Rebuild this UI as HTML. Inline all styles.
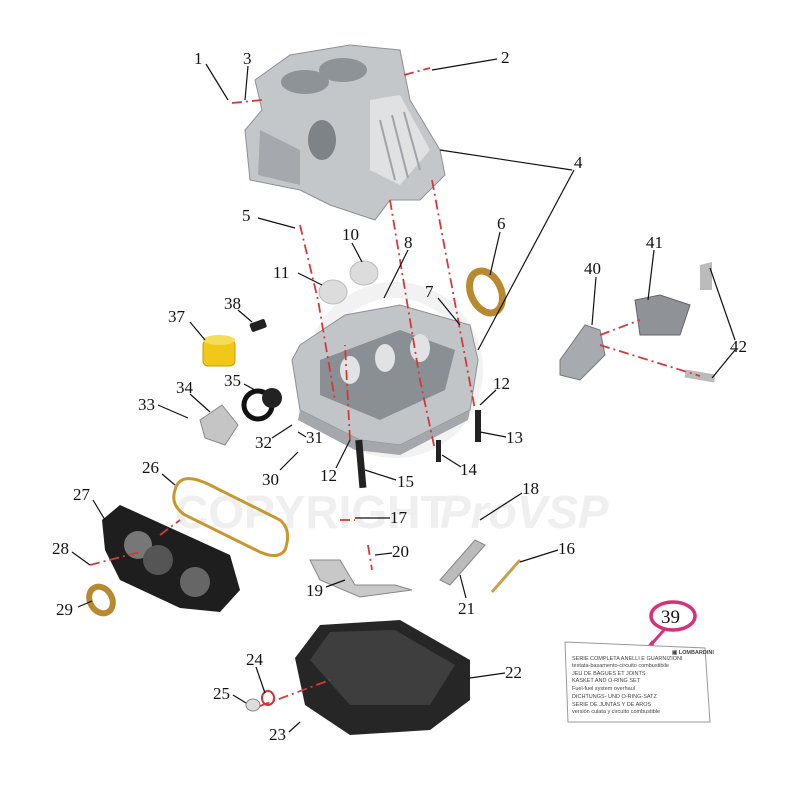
<!DOCTYPE html>
<html><head><meta charset="utf-8"><style>
html,body{margin:0;padding:0;background:#fff;}
svg{display:block;}
text{font-family:"Liberation Serif",serif;font-size:17px;fill:#111;}
.wm{font-family:"Liberation Sans",sans-serif;font-size:46px;fill:#efefef;font-weight:bold;}
.ld{stroke:#111;stroke-width:1.2;fill:none;}
.rd{stroke:#d23a3a;stroke-width:1.8;stroke-dasharray:10 4 2 4;fill:none;}
.card{font-family:"Liberation Sans",sans-serif;font-size:5.5px;fill:#444;}
</style></head><body>
<svg width="800" height="800" viewBox="0 0 800 800" xmlns="http://www.w3.org/2000/svg">
<circle cx="395" cy="370" r="80" fill="none" stroke="#f2f2f2" stroke-width="16"/>
<text x="175" y="528" class="wm">COPYRIGHT</text>
<text x="440" y="528" class="wm" font-style="italic">ProVSP</text>

<path d="M255,80 L290,55 L350,45 L400,50 L410,100 L440,150 L445,175 L420,200 L390,200 L375,220 L330,205 L300,190 L250,180 L245,130 L262,110 Z" fill="#c4c7ca" stroke="#8d9196" stroke-width="1"/>
<ellipse cx="305" cy="82" rx="24" ry="12" fill="#8e9398"/>
<ellipse cx="343" cy="70" rx="24" ry="12" fill="#8e9398"/>
<path d="M370,100 L400,95 L430,150 L400,185 L370,170 Z" fill="#dfe1e3"/>
<path d="M380,120 L395,180 M392,115 L408,178 M404,112 L420,170" stroke="#a0a4a8" stroke-width="2"/>
<ellipse cx="322" cy="140" rx="14" ry="20" fill="#7e8388"/>
<path d="M260,130 L300,150 L300,185 L258,175 Z" fill="#a5a9ae"/>

<path d="M300,345 L345,315 L400,305 L470,325 L478,360 L470,410 L400,445 L360,440 L300,410 L292,360 Z" fill="#c2c5c8" stroke="#8d9196"/>
<path d="M320,360 L400,330 L455,350 L445,390 L380,420 L320,395 Z" fill="#8a8f94"/>
<ellipse cx="350" cy="370" rx="10" ry="14" fill="#e0e2e4"/>
<ellipse cx="385" cy="358" rx="10" ry="14" fill="#e0e2e4"/>
<ellipse cx="420" cy="348" rx="10" ry="14" fill="#e0e2e4"/>
<path d="M300,410 L360,440 L400,445 L470,410 L468,420 L400,455 L355,450 L298,420 Z" fill="#a4a8ac"/>

<ellipse cx="333" cy="292" rx="14" ry="12" fill="#dcdcdc" stroke="#bbb"/>
<ellipse cx="364" cy="273" rx="14" ry="12" fill="#dcdcdc" stroke="#bbb"/>

<ellipse cx="486" cy="292" rx="15" ry="22" transform="rotate(-25 486 292)" fill="none" stroke="#b8892f" stroke-width="7"/>

<path d="M560,360 L585,325 L600,330 L605,355 L580,380 L560,375 Z" fill="#a7abaf" stroke="#777"/>
<path d="M635,300 L660,295 L690,305 L680,335 L640,335 Z" fill="#8f9398" stroke="#666"/>
<path d="M700,265 L712,262 L712,290 L700,290 Z" fill="#bbb"/>
<rect x="685" y="372" width="30" height="8" fill="#bbb" transform="rotate(10 700 376)"/>

<rect x="203" y="340" width="32" height="26" rx="5" fill="#f2c818" stroke="#c99a00"/>
<ellipse cx="219" cy="340" rx="16" ry="5" fill="#f7dc55"/>
<rect x="250" y="321" width="16" height="9" rx="2" fill="#222" transform="rotate(-20 258 325)"/>

<circle cx="258" cy="405" r="14" fill="none" stroke="#111" stroke-width="5"/>
<circle cx="272" cy="398" r="10" fill="#222"/>
<path d="M200,420 L222,405 L238,425 L225,445 L205,438 Z" fill="#c5c5c5" stroke="#888"/>

<path d="M175,490 Q180,470 210,485 L280,520 Q292,530 285,550 Q278,560 260,552 L185,515 Q170,505 175,490 Z" fill="none" stroke="#c7982f" stroke-width="3"/>

<path d="M102,520 L120,505 L230,555 L240,590 L220,612 L180,608 L120,580 L105,550 Z" fill="#1e1e1e"/>
<circle cx="138" cy="545" r="14" fill="#777"/><circle cx="158" cy="560" r="15" fill="#555"/><circle cx="195" cy="582" r="15" fill="#666"/>
<ellipse cx="101" cy="600" rx="11" ry="14" transform="rotate(-30 101 600)" fill="none" stroke="#b8892f" stroke-width="6"/>

<path d="M310,560 L340,560 L355,585 L395,585 L412,590 L360,597 L320,580 Z" fill="#c8c8c8" stroke="#888"/>
<path d="M440,580 L475,540 L485,545 L450,585 Z" fill="#bbb" stroke="#888"/>
<path d="M492,592 L520,560" stroke="#c7a050" stroke-width="3"/>

<path d="M295,658 L320,625 L400,620 L470,660 L470,700 L430,730 L350,735 L305,705 Z" fill="#262626"/>
<path d="M310,660 L330,632 L395,630 L455,665 L430,705 L350,705 Z" fill="#3e3e3e"/>
<ellipse cx="253" cy="705" rx="7" ry="6" fill="#ddd" stroke="#888"/>
<ellipse cx="268" cy="698" rx="6" ry="7" fill="none" stroke="#c33" stroke-width="2"/>

<rect x="357" y="440" width="7" height="48" fill="#222" transform="rotate(-5 360 460)"/>
<rect x="475" y="410" width="6" height="32" fill="#222"/>
<rect x="436" y="440" width="5" height="22" fill="#222"/>

<path class="rd" d="M300,225 L318,300 L335,400"/>
<path class="rd" d="M390,200 L420,380 L435,450"/>
<path class="rd" d="M432,180 L460,330 L475,410"/>
<path class="rd" d="M350,440 L345,345"/>
<path class="rd" d="M404,75 L430,68"/>
<path class="rd" d="M232,103 L262,100"/>
<path class="rd" d="M600,345 L700,376"/>
<path class="rd" d="M600,335 L640,320"/>
<path class="rd" d="M160,535 L180,520"/>
<path class="rd" d="M90,565 L140,552"/>
<path class="rd" d="M260,706 L330,680"/>
<path class="rd" d="M340,520 L355,520"/>
<path class="rd" d="M368,545 L372,570"/>

<path class="ld" d="M206,64 L228,100"/>
<path class="ld" d="M248,66 L245,100"/>
<path class="ld" d="M497,59 L432,70"/>
<path class="ld" d="M572,170 L440,150 M574,170 L478,350"/>
<path class="ld" d="M258,218 L295,228"/>
<path class="ld" d="M500,232 L490,275"/>
<path class="ld" d="M352,243 L362,262"/>
<path class="ld" d="M408,250 L384,298"/>
<path class="ld" d="M298,273 L322,285"/>
<path class="ld" d="M438,298 L460,325"/>
<path class="ld" d="M654,250 L648,300"/>
<path class="ld" d="M596,277 L592,325"/>
<path class="ld" d="M735,340 L710,268 M735,350 L712,378"/>
<path class="ld" d="M190,322 L205,340"/>
<path class="ld" d="M238,310 L252,322"/>
<path class="ld" d="M244,384 L262,394"/>
<path class="ld" d="M190,394 L210,412"/>
<path class="ld" d="M158,405 L188,418"/>
<path class="ld" d="M496,390 L480,405"/>
<path class="ld" d="M506,437 L480,432"/>
<path class="ld" d="M272,438 L292,425"/>
<path class="ld" d="M306,437 L298,432"/>
<path class="ld" d="M280,470 L298,452"/>
<path class="ld" d="M336,468 L350,440"/>
<path class="ld" d="M396,480 L365,470"/>
<path class="ld" d="M461,467 L442,455"/>
<path class="ld" d="M162,474 L175,485"/>
<path class="ld" d="M93,500 L105,520"/>
<path class="ld" d="M522,493 L480,520"/>
<path class="ld" d="M390,518 L355,518"/>
<path class="ld" d="M72,552 L90,565"/>
<path class="ld" d="M392,553 L375,555"/>
<path class="ld" d="M558,550 L520,562"/>
<path class="ld" d="M326,587 L345,580"/>
<path class="ld" d="M466,598 L460,575"/>
<path class="ld" d="M78,607 L92,601"/>
<path class="ld" d="M256,667 L265,693"/>
<path class="ld" d="M505,673 L470,678"/>
<path class="ld" d="M233,695 L246,703"/>
<path class="ld" d="M289,732 L300,722"/>

<text x="194" y="64">1</text><text x="243" y="64">3</text><text x="501" y="63">2</text>
<text x="574" y="168">4</text><text x="242" y="221">5</text><text x="497" y="229">6</text>
<text x="342" y="240">10</text><text x="404" y="248">8</text><text x="273" y="278">11</text>
<text x="425" y="297">7</text><text x="646" y="248">41</text><text x="584" y="274">40</text>
<text x="730" y="352">42</text><text x="168" y="322">37</text><text x="224" y="309">38</text>
<text x="224" y="386">35</text><text x="176" y="393">34</text><text x="138" y="410">33</text>
<text x="493" y="389">12</text><text x="506" y="443">13</text><text x="255" y="448">32</text>
<text x="306" y="443">31</text><text x="262" y="485">30</text><text x="320" y="481">12</text>
<text x="397" y="487">15</text><text x="460" y="475">14</text><text x="142" y="473">26</text>
<text x="73" y="500">27</text><text x="522" y="494">18</text><text x="390" y="523">17</text>
<text x="52" y="554">28</text><text x="392" y="557">20</text><text x="558" y="554">16</text>
<text x="306" y="596">19</text><text x="458" y="614">21</text><text x="56" y="615">29</text>
<text x="246" y="665">24</text><text x="505" y="678">22</text><text x="213" y="699">25</text>
<text x="269" y="740">23</text>

<ellipse cx="673" cy="616" rx="22" ry="14" fill="none" stroke="#d2337a" stroke-width="3.5"/>
<text x="661" y="623" style="font-size:19px">39</text>
<path d="M664,630 L648,648" stroke="#d2337a" stroke-width="3"/>
<path d="M641,655 L652,640 L656,650 Z" fill="#d2337a"/>
<path d="M565,642 L705,648 L710,722 L568,722 Z" fill="#fff" stroke="#999"/>
<g class="card">
<text x="572" y="660" class="card">SERIE COMPLETA ANELLI E GUARNIZIONI</text>
<text x="572" y="667" class="card">testata-basamento-circuito combustibile</text>
<text x="572" y="675" class="card">JEU DE BAGUES ET JOINTS</text>
<text x="572" y="682" class="card">KASKET AND O-RING SET</text>
<text x="572" y="690" class="card">Fuel-fuel system overhaul</text>
<text x="572" y="698" class="card">DICHTUNGS- UND O-RING-SATZ</text>
<text x="572" y="706" class="card">SERIE DE JUNTAS Y DE AROS</text>
<text x="572" y="713" class="card">versión culata y circuito combustible</text>
<text x="672" y="654" class="card" style="font-weight:bold">▣ LOMBARDINI</text>
</g>
</svg>
</body></html>
